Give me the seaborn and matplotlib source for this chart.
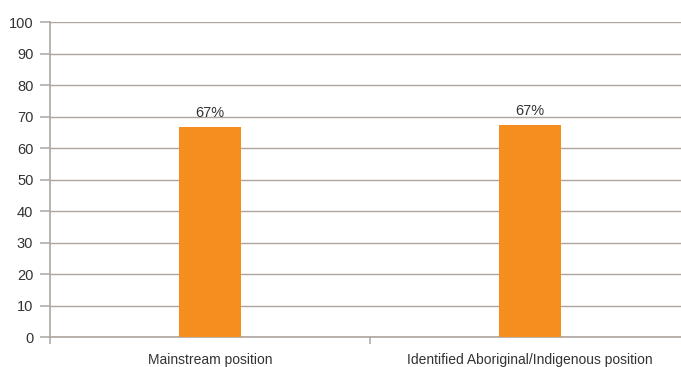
import matplotlib
matplotlib.use("Agg")
import matplotlib.pyplot as plt
from matplotlib import font_manager
import seaborn as sns
import pandas as pd

categories = ["Mainstream position", "Identified Aboriginal/Indigenous position"]
values = [66.6, 67.3]
y_ticks = [0, 10, 20, 30, 40, 50, 60, 70, 80, 90, 100]

sns.set_theme(style="white")
names = {f.name for f in font_manager.fontManager.ttflist}
family = [f for f in ["Liberation Sans Narrow", "Liberation Sans", "DejaVu Sans"] if f in names]
plt.rcParams["font.family"] = family

axis_col = "#ADA59E"
bar_col = "#F68E1F"
text_col = "#333333"

df = pd.DataFrame({"category": categories, "value": values})

fig = plt.figure(figsize=(6.81, 3.67), dpi=100)
ax = fig.add_axes([50 / 681, 1 - 337.3 / 367, 640 / 681, (337.3 - 22) / 367])

sns.barplot(data=df, x="category", y="value", color=bar_col, width=0.194,
            saturation=1, linewidth=0, ax=ax, zorder=3)

ax.set_xlim(-0.5, 1.5)
ax.set_ylim(0, 100)
ax.set_yticks(y_ticks)
ax.yaxis.grid(True, color=axis_col, linewidth=1.0, zorder=0)
ax.xaxis.grid(False)

for s in ["top", "right"]:
    ax.spines[s].set_visible(False)
for s in ["left", "bottom"]:
    ax.spines[s].set_color(axis_col)
    ax.spines[s].set_linewidth(1.2)

ax.tick_params(axis="y", which="major", left=True, length=7, width=1.1,
               color=axis_col, labelsize=10.5, labelcolor=text_col, pad=5)
# category labels centred, boundary ticks between categories
ax.set_xticks([0, 1])
ax.set_xticklabels(categories)
ax.tick_params(axis="x", which="major", bottom=False, labelsize=10,
               labelcolor=text_col, pad=5)
ax.set_xticks([-0.5, 0.5, 1.5], minor=True)
ax.tick_params(axis="x", which="minor", bottom=True, length=5, width=1.1,
               color=axis_col)
ax.set_xlabel("")
ax.set_ylabel("")

for i, v in enumerate(values):
    ax.text(i, v + 2.2, f"{round(v)}%", ha="center", va="bottom",
            fontsize=10.5, color=text_col, zorder=4)

fig.savefig("out.png", dpi=100)
